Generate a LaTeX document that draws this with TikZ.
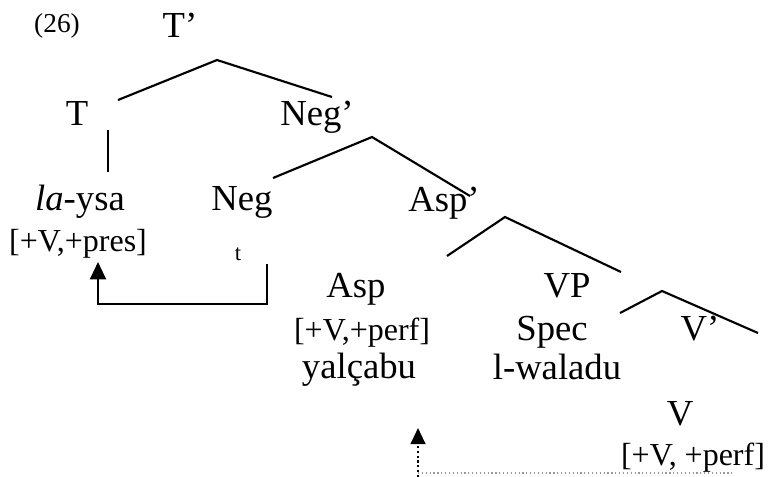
\documentclass[tikz,border=0pt]{standalone}
\usepackage{fontspec}
\setmainfont{Liberation Serif}
\usetikzlibrary{arrows.meta}
\begin{document}
\begin{tikzpicture}[x=0.75pt,y=-0.75pt,
  label/.style={inner sep=0pt,anchor=base,font=\fontsize{27.5}{30}\selectfont},
  feat/.style={inner sep=0pt,anchor=base,font=\fontsize{24}{26}\selectfont},
  exnum/.style={inner sep=0pt,anchor=base,font=\fontsize{20.5}{22}\selectfont},
  trace/.style={inner sep=0pt,anchor=base,font=\fontsize{17}{18}\selectfont},
  branch/.style={line width=1.6pt},
  movearrow/.style={line width=1.6pt,-{Triangle[width=12pt,length=13pt]}},
  headarrow/.style={line width=1.6pt,dotted,-{Triangle[width=11pt,length=12pt]}},
  faintdots/.style={line width=0.9pt,dotted,black!40}]
\useasboundingbox (0,0) rectangle (774,476);

% labels
\node[exnum] (num) at (57,32) {(26)};
\node[label] (tbar) at (180,37) {T’};
\node[label] (t) at (77,125) {T};
\node[label] (negbar) at (317,125) {Neg’};
\node[label] (laysa) at (80,210) {\textit{la}-ysa};
\node[label] (neg) at (242,210) {Neg};
\node[label] (aspbar) at (444,211) {Asp’};
\node[feat] (tfeat) at (78,251) {[+V,+pres]};
\node[trace] (trc) at (238,260) {t};
\node[label] (asp) at (356,297) {Asp};
\node[label] (vp) at (567,297) {VP};
\node[feat] (aspfeat) at (362,340) {[+V,+perf]};
\node[label] (spec) at (552,340) {Spec};
\node[label] (vbar) at (700,340) {V’};
\node[label] (yal) at (359,378) {yalçabu};
\node[label] (walad) at (557,379) {l-waladu};
\node[label] (v) at (680,425) {V};
\node[feat] (vfeat) at (693,465) {[+V, +perf]};

% branch points
\coordinate (tbarTop) at (217,60);
\coordinate (tbarL) at (118,100);
\coordinate (tbarR) at (332,97);
\coordinate (tTop) at (108,130);
\coordinate (tBot) at (108,172);
\coordinate (negbarTop) at (372,137);
\coordinate (negbarL) at (273,178);
\coordinate (negbarR) at (470,196);
\coordinate (aspbarTop) at (505,217);
\coordinate (aspbarL) at (447,256);
\coordinate (aspbarR) at (621,272);
\coordinate (vpTop) at (662,291);
\coordinate (vpL) at (620,313);
\coordinate (vpR) at (758,333);

\draw[branch] (tbarL) -- (tbarTop) -- (tbarR);
\draw[branch] (tTop) -- (tBot);
\draw[branch] (negbarL) -- (negbarTop) -- (negbarR);
\draw[branch] (aspbarL) -- (aspbarTop) -- (aspbarR);
\draw[branch] (vpL) -- (vpTop) -- (vpR);

% head movement of Neg to T
\coordinate (moveSrc) at (267,264);
\coordinate (moveLow) at (267,304);
\coordinate (moveTip) at (98,262);
\draw[movearrow] (moveSrc) -- (moveLow) -| (moveTip);

% head movement of V to Asp
\coordinate (vmoveBot) at (418,477);
\coordinate (vmoveTip) at (418,428);
\coordinate (vmoveEnd) at (735,473);
\draw[faintdots] (418,473) -- (vmoveEnd);
\draw[headarrow] (vmoveBot) -- (vmoveTip);
\end{tikzpicture}
\end{document}
